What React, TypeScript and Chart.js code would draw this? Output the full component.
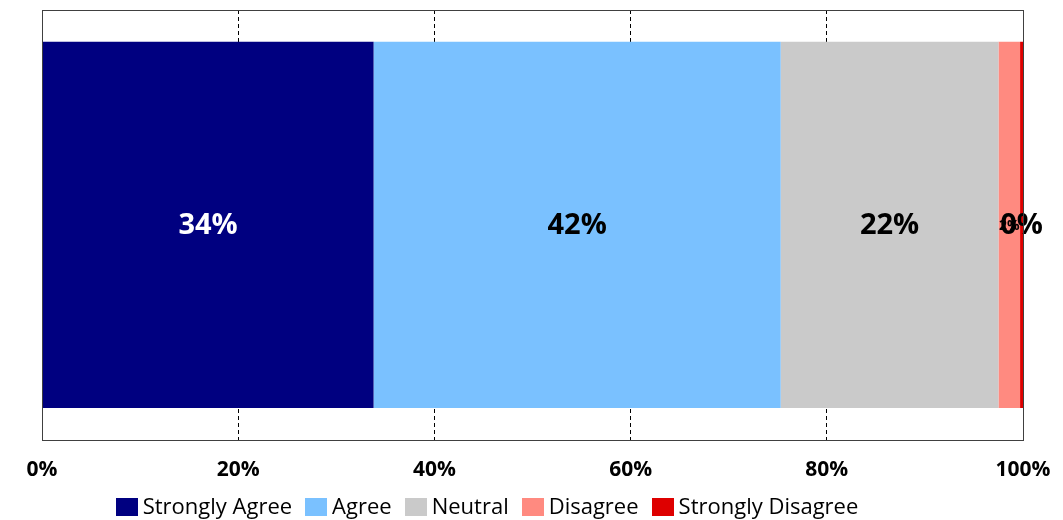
import React, { useEffect, useRef } from "react";
import { Chart, registerables } from "chart.js";

Chart.register(...registerables);

const categories = ["Overall"];
const seriesNames = ["Strongly Agree", "Agree", "Neutral", "Disagree", "Strongly Disagree"];
const stronglyAgree = [33.8];
const agree = [41.5];
const neutral = [22.2];
const disagree = [2.2];
const stronglyDisagree = [0.3];
const dataLabels = [["34%"], ["42%"], ["22%"], ["2%"], ["0%"]];
const tickValues = [0, 20, 40, 60, 80, 100];

const colors = ["#000080", "#7AC1FF", "#CACACA", "#FF8A80", "#DE0000"];
const labelColors = ["#FFFFFF", "#000000", "#000000", "#000000", "#000000"];
const labelSizes = [29, 29, 29, 14, 29];
const FONT = "'Open Sans', Lato, sans-serif";

const labelPlugin = {
  id: "segLabels",
  afterDatasetsDraw(chart: any) {
    const ctx = chart.ctx;
    chart.data.datasets.forEach((ds: any, i: number) => {
      const meta = chart.getDatasetMeta(i);
      meta.data.forEach((el: any, j: number) => {
        const cx = (el.x + el.base) / 2;
        ctx.save();
        ctx.font = `bold ${labelSizes[i]}px ${FONT}`;
        ctx.fillStyle = labelColors[i];
        ctx.textAlign = "center";
        ctx.textBaseline = "middle";
        ctx.fillText(dataLabels[i][j], cx, el.y + 1);
        ctx.restore();
      });
    });
  },
};

const borderPlugin = {
  id: "plotBorder",
  afterDraw(chart: any) {
    const { ctx, chartArea } = chart;
    ctx.save();
    ctx.strokeStyle = "#404040";
    ctx.lineWidth = 1;
    ctx.setLineDash([]);
    ctx.strokeRect(
      Math.round(chartArea.left) + 0.5,
      Math.round(chartArea.top) + 0.5,
      Math.round(chartArea.right - chartArea.left),
      Math.round(chartArea.bottom - chartArea.top)
    );
    ctx.restore();
  },
};

const legendPlugin = {
  id: "customLegend",
  afterDraw(chart: any) {
    const ctx = chart.ctx;
    const boxW = 22;
    const boxH = 18;
    const gap = 5;
    const spacing = 13;
    const cy = 507;
    ctx.save();
    ctx.font = `22px ${FONT}`;
    ctx.textBaseline = "middle";
    ctx.textAlign = "left";
    let total = 0;
    seriesNames.forEach((n, i) => {
      total += boxW + gap + ctx.measureText(n).width + (i < seriesNames.length - 1 ? spacing : 0);
    });
    let x = 487 - total / 2;
    seriesNames.forEach((n, i) => {
      ctx.fillStyle = colors[i];
      ctx.fillRect(Math.round(x), cy - boxH / 2, boxW, boxH);
      ctx.fillStyle = "#000000";
      ctx.fillText(n, x + boxW + gap, cy + 1);
      x += boxW + gap + ctx.measureText(n).width + spacing;
    });
    ctx.restore();
  },
};

export default function App() {
  const ref = useRef<HTMLCanvasElement>(null);
  useEffect(() => {
    if (!ref.current) return;
    const series = [stronglyAgree, agree, neutral, disagree, stronglyDisagree];
    const chart = new Chart(ref.current, {
      type: "bar",
      data: {
        labels: categories,
        datasets: series.map((d, i) => ({
          label: seriesNames[i],
          data: d,
          backgroundColor: colors[i],
          borderWidth: 0,
          categoryPercentage: 1,
          barPercentage: 0.852,
        })),
      },
      options: {
        indexAxis: "y",
        animation: false,
        responsive: true,
        maintainAspectRatio: false,
        layout: { padding: { left: 42, right: 40, top: 10, bottom: 19 } },
        scales: {
          x: {
            stacked: true,
            min: 0,
            max: 100,
            afterBuildTicks: (axis: any) => {
              axis.ticks = tickValues.map((v) => ({ value: v }));
            },
            afterFit: (axis: any) => {
              axis.paddingLeft = 0;
              axis.paddingRight = 0;
            },
            ticks: {
              callback: (v: any) => v + "%",
              font: { family: FONT, size: 21, weight: "bold" },
              color: "#000000",
              padding: 18,
              maxRotation: 0,
            },
            grid: {
              color: (c: any) =>
                c.tick && (c.tick.value === 0 || c.tick.value === 100) ? "rgba(0,0,0,0)" : "#000000",
              lineWidth: 1,
              drawTicks: false,
            },
            border: { display: false, dash: [4, 3] },
          },
          y: {
            stacked: true,
            display: false,
          },
        },
        plugins: {
          legend: { display: false },
          tooltip: { enabled: false },
        },
      } as any,
      plugins: [labelPlugin, borderPlugin, legendPlugin],
    });
    return () => chart.destroy();
  }, []);
  return (
    <div style={{ position: "fixed", left: 0, top: 0, width: 1063, height: 520, background: "#fff" }}>
      <canvas ref={ref} />
    </div>
  );
}
